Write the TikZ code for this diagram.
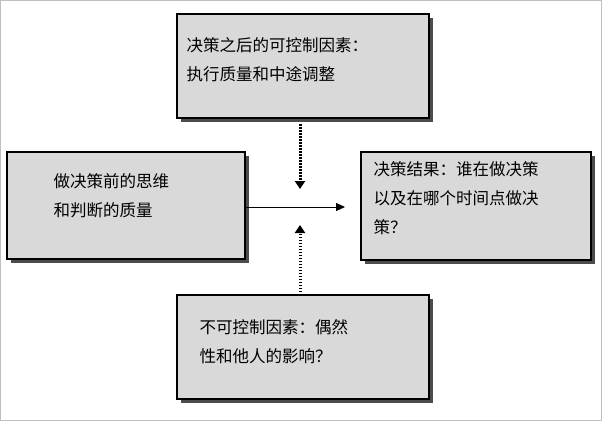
\documentclass[tikz,border=0pt]{standalone}
\usepackage{fontspec}
\setmainfont{Noto Sans CJK SC}
\usetikzlibrary{arrows.meta,shadows}
\tikzset{
 box/.style={draw=black,line width=1.6pt,fill=black!15,anchor=north west,inner sep=0pt,
   drop shadow={shadow xshift=4pt,shadow yshift=-4pt,fill=black!70,opacity=1}},
 txt/.style={anchor=north west,align=left,font=\fontsize{16.5}{29}\selectfont},
 dot/.style={line width=3pt,dash pattern=on 1.5pt off 1.5pt,-{Triangle[width=10pt,length=8pt]}}
}
\begin{document}
\begin{tikzpicture}[x=1pt,y=-1pt]
\draw[black!25,fill=white,line width=1pt] (0.5,0.5) rectangle (601.5,420.5);
\node[box,minimum width=252pt,minimum height=104pt] (top) at (176,13) {};
\node[box,minimum width=238pt,minimum height=107pt] (left) at (6,151) {};
\node[box,minimum width=230pt,minimum height=108pt] (right) at (360,151) {};
\node[box,minimum width=252pt,minimum height=104pt] (bot) at (176,294) {};
\node[txt] (tt) at (183,34) {决策之后的可控制因素：\\执行质量和中途调整};
\node[txt] (lt) at (50,170) {做决策前的思维\\和判断的质量};
\node[txt] (rt) at (370,158) {决策结果：谁在做决策\\以及在哪个时间点做决\\策？};
\node[txt] (bt) at (196,316) {不可控制因素：偶然\\性和他人的影响？};
\coordinate (c) at (300,207);
\draw[line width=1pt,-{Triangle[width=8pt,length=9pt]}] (left.east|-c) -- (345,207);
\draw[dot] (300,124) -- (300,189);
\draw[dot] (300,292) -- (300,225);
\end{tikzpicture}
\end{document}
